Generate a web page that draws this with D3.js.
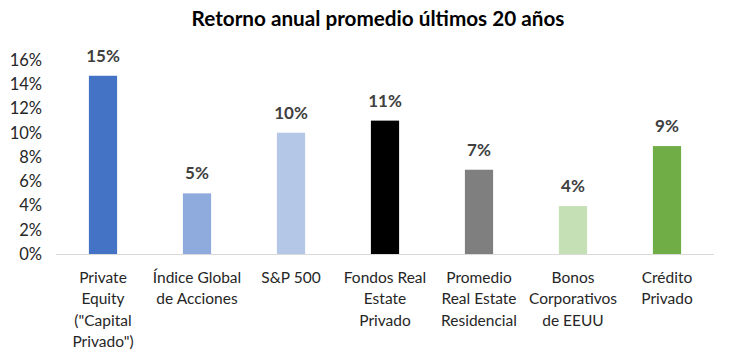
<!DOCTYPE html>
<html><head><meta charset="utf-8">
<script src="https://cdn.jsdelivr.net/npm/d3@7"></script>
<style>body{margin:0;background:#fff}svg{display:block}</style>
</head><body>
<svg id="c" width="730" height="361"></svg>
<script>
const categories = [
  ["Private","Equity","(\"Capital","Privado\")"],
  ["Índice Global","de Acciones"],
  ["S&P 500"],
  ["Fondos Real","Estate","Privado"],
  ["Promedio","Real Estate","Residencial"],
  ["Bonos","Corporativos","de EEUU"],
  ["Crédito","Privado"]
];
const values = [14.7, 5.0, 10.0, 11.0, 6.95, 3.95, 8.9];
const valueLabels = ["15%","5%","10%","11%","7%","4%","9%"];
const colors = ["#4472C4","#8FAADC","#B4C7E7","#000000","#7F7F7F","#C5E0B4","#70AD47"];
const yTicks = [0,2,4,6,8,10,12,14,16];
const title = "Retorno anual promedio últimos 20 años";

const font = "Lato, 'Open Sans', sans-serif";
const svg = d3.select("#c");
const x = d3.scaleBand().domain(d3.range(values.length)).range([56,714]).paddingInner(0.7).paddingOuter(0.35);
const y = d3.scaleLinear().domain([0,16]).range([254,60]);

svg.append("text").attr("x",378).attr("y",26).attr("text-anchor","middle")
  .attr("font-family",font).attr("font-weight","bold").attr("font-size",20.7).attr("fill","#000").text(title);

const ya = svg.append("g").attr("transform","translate(42,0)")
  .call(d3.axisLeft(y).tickValues(yTicks).tickSize(0).tickPadding(0).tickFormat(d=>d+"%"));
ya.select(".domain").remove();
ya.selectAll("text").attr("font-family",font).attr("font-size",16.5).attr("fill","#262626");

svg.append("g").selectAll("rect").data(values).join("rect")
  .attr("x",(d,i)=>x(i)).attr("width",x.bandwidth())
  .attr("y",d=>y(d)).attr("height",d=>y(0)-y(d))
  .attr("fill",(d,i)=>colors[i]);

svg.append("line").attr("x1",56).attr("x2",714).attr("y1",y(0)+0.5).attr("y2",y(0)+0.5)
  .attr("stroke","#D9D9D9").attr("stroke-width",1);

svg.append("g").selectAll("text").data(values).join("text")
  .attr("x",(d,i)=>x(i)+x.bandwidth()/2).attr("y",d=>y(d)-14)
  .attr("text-anchor","middle").attr("font-family",font).attr("font-weight","bold")
  .attr("font-size",17).attr("fill","#404040").text((d,i)=>valueLabels[i]);

const cl = svg.append("g").selectAll("text").data(categories).join("text")
  .attr("text-anchor","middle").attr("font-family",font).attr("font-size",15.5).attr("fill","#262626");
cl.each(function(lines,i){
  const t = d3.select(this);
  lines.forEach((ln,j)=>{
    t.append("tspan").attr("x",x(i)+x.bandwidth()/2).attr("y",283+j*21.3).text(ln);
  });
});
</script>
</body></html>
